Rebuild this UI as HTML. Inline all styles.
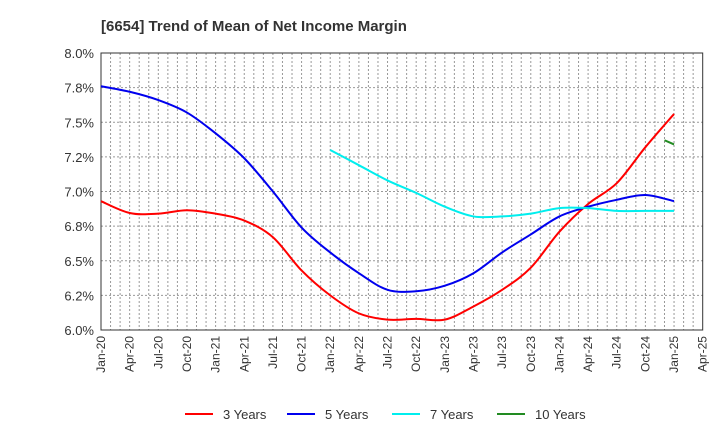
<!DOCTYPE html>
<html><head><meta charset="utf-8"><style>
body{margin:0;background:#fff;}
svg text{font-family:"Liberation Sans",Arial,sans-serif;}
</style></head><body>
<svg id="chart" width="720" height="440" xmlns="http://www.w3.org/2000/svg">
<text x="101" y="31" font-size="15" font-weight="bold" fill="#333">[6654]  Trend of Mean of Net Income Margin</text>
<g id="grid"></g>
<g id="axes"></g>
<g id="series"></g>
<g id="legend"></g>
</svg>
<script>
const xLabels=["Jan-20","Apr-20","Jul-20","Oct-20","Jan-21","Apr-21","Jul-21","Oct-21","Jan-22","Apr-22","Jul-22","Oct-22","Jan-23","Apr-23","Jul-23","Oct-23","Jan-24","Apr-24","Jul-24","Oct-24","Jan-25","Apr-25"];
const yTicks=[6.0,6.25,6.5,6.75,7.0,7.25,7.5,7.75,8.0];
const yTickLabels=["6.0%","6.2%","6.5%","6.8%","7.0%","7.2%","7.5%","7.8%","8.0%"];
const s3=[6.93,6.845,6.84,6.865,6.84,6.79,6.67,6.43,6.25,6.12,6.075,6.08,6.075,6.17,6.29,6.45,6.71,6.91,7.06,7.32,7.56];
const s5=[7.76,7.72,7.66,7.57,7.42,7.24,7.0,6.74,6.56,6.41,6.29,6.28,6.32,6.41,6.56,6.69,6.82,6.89,6.94,6.975,6.93];
const s7=[null,null,null,null,null,null,null,null,7.30,7.19,7.08,6.99,6.89,6.82,6.82,6.84,6.88,6.88,6.86,6.86,6.86];
const s10Months=[59,60];
const s10=[7.37,7.34];
const L=101,R=702.7,T=53,B=330,NS="http://www.w3.org/2000/svg";
const xm=m=>L+m*(R-L)/63;
const yv=v=>B-(v-6)/2*(B-T);
function el(tag,attrs,parent){const e=document.createElementNS(NS,tag);for(const k in attrs)e.setAttribute(k,attrs[k]);parent.appendChild(e);return e;}
const grid=document.getElementById('grid'),axes=document.getElementById('axes'),series=document.getElementById('series'),legend=document.getElementById('legend');
for(let m=1;m<63;m++){const g=el('line',{x1:xm(m),x2:xm(m),y1:T,y2:B,stroke:'#999','stroke-width':1,'stroke-dasharray':'2,2'},grid);
}
yTicks.forEach((v,i)=>{if(i>0&&i<yTicks.length-1){const g=el('line',{x1:L,x2:R,y1:yv(v),y2:yv(v),stroke:'#999','stroke-width':1,'stroke-dasharray':'2,2'},grid);
}
const t=el('text',{x:L-7,y:yv(v)+5,'font-size':13,'text-anchor':'end',fill:'#333'},axes);t.textContent=yTickLabels[i];
});
const fr=el('rect',{x:L,y:T,width:R-L,height:B-T,fill:'none',stroke:'#333','stroke-width':1},axes);

xLabels.forEach((s,i)=>{const x=xm(i*3);const t=el('text',{x:0,y:0,'font-size':12,'text-anchor':'end',fill:'#333',transform:`translate(${x+4},${B+6}) rotate(-90)`},axes);t.textContent=s;
});
function path(pts){if(pts.length<2)return'';let d=`M${pts[0][0]},${pts[0][1]}`;for(let i=0;i<pts.length-1;i++){const p0=pts[i-1]||pts[i],p1=pts[i],p2=pts[i+1],p3=pts[i+2]||p2;
d+=` C${p1[0]+(p2[0]-p0[0])/6},${p1[1]+(p2[1]-p0[1])/6} ${p2[0]-(p3[0]-p1[0])/6},${p2[1]-(p3[1]-p1[1])/6} ${p2[0]},${p2[1]}`;}return d;}
function draw(vals,months,color,name){const pts=[];vals.forEach((v,i)=>{if(v!=null)pts.push([xm(months[i]),yv(v)]);});
const p=el('path',{d:path(pts),fill:'none',stroke:color,'stroke-width':2},series);}
const qm=s3.map((_,i)=>i*3);
draw(s3,qm,'#ff0000','line-3-years');draw(s5,qm,'#0000ee','line-5-years');draw(s7,qm,'#00eeee','line-7-years');draw(s10,s10Months,'#228b22','line-10-years');
[["3 Years",'#ff0000',185],["5 Years",'#0000ee',287],["7 Years",'#00eeee',392],["10 Years",'#228b22',497]].forEach(([n,c,x])=>{
const g=el('g',{},legend);
el('line',{x1:x,x2:x+28,y1:414,y2:414,stroke:c,'stroke-width':2},g);
const t=el('text',{x:x+38,y:419,'font-size':13,fill:'#333'},g);t.textContent=n;});
</script>
</body></html>
